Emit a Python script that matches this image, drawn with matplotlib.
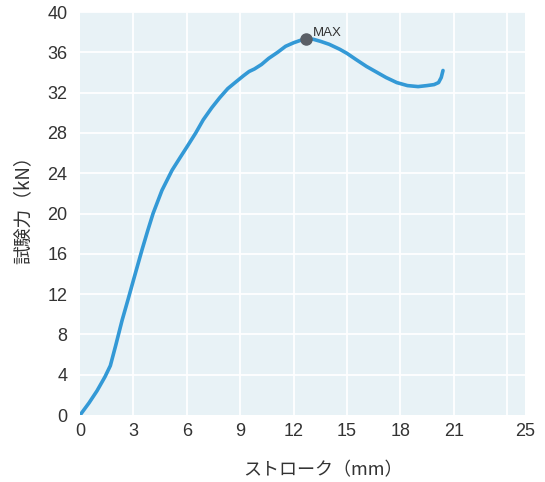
import matplotlib
matplotlib.use("Agg")
import matplotlib.pyplot as plt

plt.rcParams['font.family'] = ['Noto Sans CJK JP', 'DejaVu Sans']

stroke = [0.0, 0.5, 0.95, 1.4, 1.7, 2.0, 2.36, 2.7, 3.0, 3.48, 3.8, 4.1, 4.6, 5.17, 5.6, 6.0,
          6.5, 6.92, 7.4, 7.85, 8.3, 8.78, 9.2, 9.5, 9.8, 10.2, 10.6, 11.1, 11.55, 12.0, 12.4, 12.7,
          13.1, 13.5, 14.0, 14.6, 15.0, 15.5, 16.1, 16.6, 17.2, 17.8, 18.4, 19.0, 19.5,
          19.9, 20.15, 20.3, 20.4]
force = [0.0, 1.2, 2.4, 3.8, 4.9, 6.9, 9.4, 11.5, 13.4, 16.4, 18.3, 20.0, 22.3, 24.3, 25.5, 26.6,
         28.0, 29.3, 30.5, 31.5, 32.4, 33.1, 33.7, 34.1, 34.35, 34.8, 35.4, 36.0, 36.6, 36.95, 37.2, 37.35,
         37.3, 37.1, 36.8, 36.3, 35.9, 35.3, 34.6, 34.1, 33.5, 33.0, 32.7, 32.6, 32.7,
         32.8, 33.0, 33.5, 34.2]
max_point = (12.7, 37.35)
x_ticks = [0, 3, 6, 9, 12, 15, 18, 21, 25]
x_grid = [3, 6, 9, 12, 15, 18, 21, 24]
y_ticks = [0, 4, 8, 12, 16, 20, 24, 28, 32, 36, 40]

fig = plt.figure(figsize=(5.45, 4.82), dpi=100)
ax = fig.add_axes([0.147, 0.139, 0.816, 0.836])
ax.set_facecolor('#e8f2f6')
for s in ax.spines.values():
    s.set_visible(False)

for gx in x_grid:
    ax.axvline(gx, color='white', lw=1.3, zorder=1)
for gy in y_ticks[1:]:
    ax.axhline(gy, color='white', lw=1.3, zorder=1)

ax.plot(stroke, force, color='#3399d6', lw=2.6, solid_capstyle='round',
        solid_joinstyle='round', zorder=3)
ax.plot(*max_point, 'o', color='#5a5f66', ms=8, zorder=4)
ax.annotate('MAX', max_point, xytext=(5, 2), textcoords='offset points',
            fontsize=9.5, color='#333333', family=['Liberation Sans'])

ax.set_xlim(0, 25)
ax.set_ylim(0, 40)
ax.set_xticks(x_ticks)
ax.set_yticks(y_ticks)
ax.tick_params(axis='y', length=0, labelsize=13, colors='#333333', pad=9)
ax.tick_params(axis='x', length=0, labelsize=13, colors='#333333', pad=6)
for lab in ax.get_xticklabels() + ax.get_yticklabels():
    lab.set_family(['Liberation Sans'])

ax.set_xlabel('ストローク（mm）', fontsize=13, color='#333333')
ax.xaxis.set_label_coords(0.545, -0.115)
ax.set_ylabel('試験力（kN）', fontsize=13.5, color='#333333')
ax.yaxis.set_label_coords(-0.105, 0.52)

fig.savefig('out.png', dpi=100)
